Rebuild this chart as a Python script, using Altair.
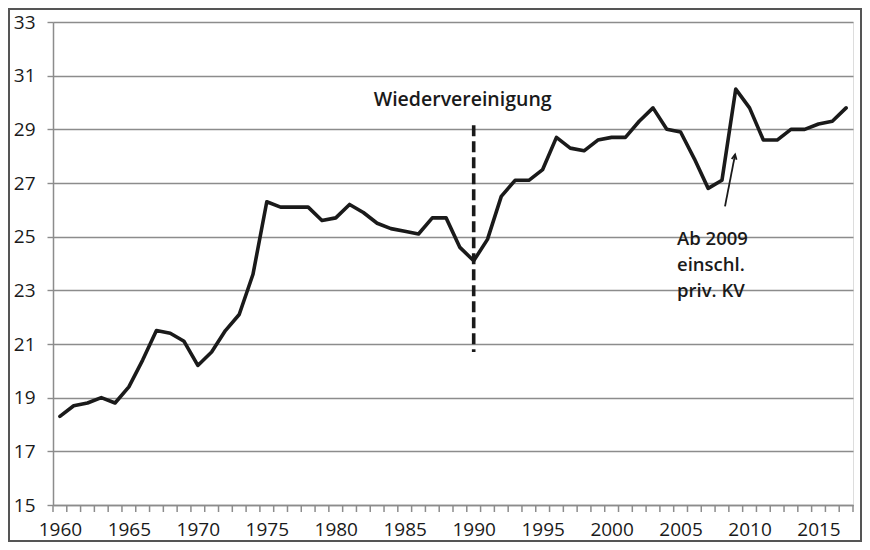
import altair as alt
import pandas as pd

years = list(range(1960, 2018))
values = [18.3, 18.7, 18.8, 19.0, 18.8, 19.4, 20.4, 21.5, 21.4, 21.1,
          20.2, 20.7, 21.5, 22.1, 23.6, 26.3, 26.1, 26.1, 26.1, 25.6,
          25.7, 26.2, 25.9, 25.5, 25.3, 25.2, 25.1, 25.7, 25.7, 24.6,
          24.1, 24.9, 26.5, 27.1, 27.1, 27.5, 28.7, 28.3, 28.2, 28.6,
          28.7, 28.7, 29.3, 29.8, 29.0, 28.9, 27.9, 26.8, 27.1, 30.5,
          29.8, 28.6, 28.6, 29.0, 29.0, 29.2, 29.3, 29.8]

y_ticks = [15, 17, 19, 21, 23, 25, 27, 29, 31, 33]
x_labels = [1960, 1965, 1970, 1975, 1980, 1985, 1990, 1995, 2000, 2005, 2010, 2015]
x_boundaries = [y - 0.5 for y in range(1960, 2019)]

event_label = "Wiedervereinigung"
event_year = 1990
event_top, event_bottom = 29.15, 20.7
event_label_pos = (1989.2, 29.88)

note_lines = ["Ab 2009", "einschl.", "priv. KV"]
note_pos = (2004.74, 24.68)
arrow_tail = (2008.22, 26.13)
arrow_head = (2008.95, 28.06)

W, H = 800, 483
PAD = {"left": 45, "top": 14, "right": 9, "bottom": 37}
FONT = "Open Sans"
GRID = "#8c8c8c"
TXT = "#1a1a1a"

df = pd.DataFrame({"year": years, "value": values})

xscale = alt.Scale(domain=[1959.5, 2017.5], nice=False, zero=False)
yscale = alt.Scale(domain=[15, 33], nice=False, zero=False)

x_axis = alt.Axis(
    values=x_labels, format="d", labelOverlap=False, labelFlush=False,
    grid=False, ticks=False, labelBaseline="alphabetic",
    domainColor=GRID, domainWidth=1.5, labelPadding=30,
    labelFont=FONT, labelFontSize=19, labelColor=TXT, title=None,
)
y_axis = alt.Axis(
    values=y_ticks, grid=True, gridColor=GRID, gridWidth=1.4,
    tickSize=6, tickColor=GRID, tickWidth=1.4,
    domainColor=GRID, domainWidth=1.5, labelPadding=12,
    labelFont=FONT, labelFontSize=19, labelColor=TXT, title=None,
)

line = alt.Chart(df).mark_line(
    color="#1a1a1a", strokeWidth=3.6, strokeJoin="round", strokeCap="round"
).encode(
    x=alt.X("year:Q", scale=xscale, axis=x_axis),
    y=alt.Y("value:Q", scale=yscale, axis=y_axis),
)

ticks_df = pd.DataFrame({"b": x_boundaries})
xticks = alt.Chart(ticks_df).mark_rule(color=GRID, strokeWidth=1.5).encode(
    x=alt.X("b:Q", scale=xscale), y=alt.value(H), y2=alt.value(H + 7)
)

ev = pd.DataFrame({"year": [event_year], "top": [event_top], "bottom": [event_bottom]})
vrule = alt.Chart(ev).mark_rule(
    color="#1a1a1a", strokeWidth=3.6, strokeDash=[11, 5]
).encode(
    x=alt.X("year:Q", scale=xscale), y=alt.Y("top:Q", scale=yscale), y2="bottom:Q"
)

ev_lab = pd.DataFrame({"x": [event_label_pos[0]], "y": [event_label_pos[1]], "t": [event_label]})
ev_text = alt.Chart(ev_lab).mark_text(
    font=FONT, fontSize=19.5, fontWeight=600, color=TXT, align="center", baseline="alphabetic"
).encode(x=alt.X("x:Q", scale=xscale), y=alt.Y("y:Q", scale=yscale), text="t:N")

note_df = pd.DataFrame({"x": [note_pos[0]], "y": [note_pos[1]], "t": ["\n".join(note_lines)]})
note_text = alt.Chart(note_df).mark_text(
    font=FONT, fontSize=18.5, fontWeight=600, color=TXT, align="left", baseline="alphabetic",
    lineBreak="\n", lineHeight=26,
).encode(x=alt.X("x:Q", scale=xscale), y=alt.Y("y:Q", scale=yscale), text="t:N")

arr_df = pd.DataFrame({"x": [arrow_tail[0]], "y": [arrow_tail[1]],
                       "x2": [arrow_head[0]], "y2": [arrow_head[1]]})
arrow_line = alt.Chart(arr_df).mark_rule(color="#1a1a1a", strokeWidth=1.8).encode(
    x=alt.X("x:Q", scale=xscale), y=alt.Y("y:Q", scale=yscale), x2="x2:Q", y2="y2:Q"
)
arrow_head_mark = alt.Chart(arr_df).mark_point(
    shape="M-0.45,0.9L0,0L0.45,0.9", filled=False, color="#1a1a1a",
    strokeWidth=1.8, size=120, angle=11, opacity=1,
).encode(x=alt.X("x2:Q", scale=xscale), y=alt.Y("y2:Q", scale=yscale))

frame = alt.Chart(pd.DataFrame({"a": [0]})).mark_rect(
    fill=None, stroke="#555", strokeWidth=2
).encode(
    x=alt.value(-PAD["left"] + 1), x2=alt.value(W + PAD["right"] - 1),
    y=alt.value(-PAD["top"] + 1), y2=alt.value(H + PAD["bottom"] - 1),
)

chart = alt.layer(
    line, xticks, vrule, ev_text, note_text, arrow_line, arrow_head_mark, frame
).properties(
    width=W, height=H,
    autosize=alt.AutoSizeParams(type="none"),
    padding=PAD,
).configure_view(stroke=None).configure(background="white")

chart.save("out.html", embed_options={"renderer": "svg", "actions": False})
